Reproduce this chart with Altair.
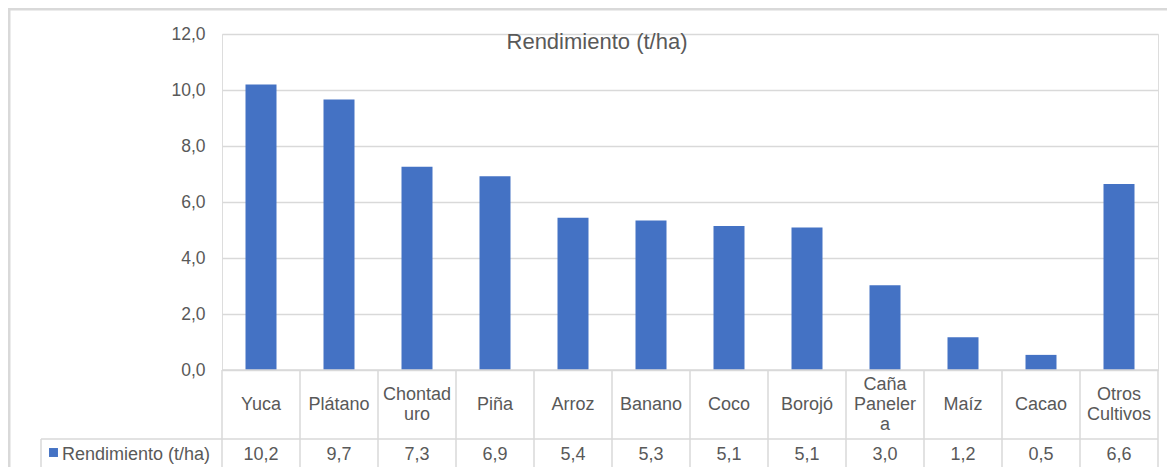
import altair as alt
import pandas as pd

cultivos = ["Yuca", "Plátano", "Chontaduro", "Piña", "Arroz", "Banano", "Coco",
            "Borojó", "Caña Panelera", "Maíz", "Cacao", "Otros Cultivos"]
etiquetas = ["Yuca", "Plátano", "Chontad\nuro", "Piña", "Arroz", "Banano", "Coco",
             "Borojó", "Caña\nPaneler\na", "Maíz", "Cacao", "Otros\nCultivos"]
rendimiento = [10.2, 9.66, 7.26, 6.92, 5.44, 5.34, 5.14, 5.09, 3.03, 1.17, 0.54, 6.64]
serie = "Rendimiento (t/ha)"
y_ticks = [0, 2, 4, 6, 8, 10, 12]

FONT = "Liberation Sans"
TXT = "#595959"
GRID = "#d9d9d9"
BAR = "#4472C4"
W, H = 936, 336
LH = 20

df = pd.DataFrame({"cultivo": cultivos, "etiqueta": etiquetas, "valor": rendimiento})
df["off"] = [-(e.count("\n")) * LH / 2 for e in etiquetas]
one = pd.DataFrame({"serie": [serie]})

xenc = alt.X("cultivo:N", sort=cultivos,
             scale=alt.Scale(paddingInner=0, paddingOuter=0), axis=None)

base = alt.Chart(df)

bars = base.mark_bar(color=BAR, width=31).encode(
    x=xenc,
    y=alt.Y("valor:Q", scale=alt.Scale(domain=[0, 12], nice=False),
            axis=alt.Axis(values=y_ticks, title=None, grid=True, gridColor=GRID,
                          gridWidth=1.5, domain=False, ticks=False, labelPadding=17,
                          labelFont=FONT, labelFontSize=17.5, labelColor=TXT,
                          labelExpr="replace(format(datum.value, '.1f'), '.', ',')")),
)

header = base.mark_text(lineBreak="\n", font=FONT, fontSize=18, lineHeight=LH,
                        baseline="middle", align="center", color=TXT).encode(
    x=xenc, y=alt.value(370.5), yOffset=alt.YOffset("off:Q", scale=None),
    text="etiqueta:N")

values = base.transform_calculate(
    lbl="replace(format(datum.valor, '.1f'), '.', ',')"
).mark_text(font=FONT, fontSize=18, baseline="middle", align="center", color=TXT).encode(
    x=xenc, y=alt.value(421), text="lbl:N")

vlines = base.mark_rule(color=GRID, strokeWidth=1.5).encode(
    x=alt.X("cultivo:N", sort=cultivos, bandPosition=0,
            scale=alt.Scale(paddingInner=0, paddingOuter=0), axis=None),
    y=alt.value(H), y2=alt.value(440))

ob = alt.Chart(one)
right_line = ob.mark_rule(color=GRID, strokeWidth=1.5).encode(
    x=alt.value(W), y=alt.value(H), y2=alt.value(440))
top_line = ob.mark_rule(color=GRID, strokeWidth=1.5).encode(
    x=alt.value(0), x2=alt.value(W), y=alt.value(H))
row_line = ob.mark_rule(color=GRID, strokeWidth=1.5).encode(
    x=alt.value(-181), x2=alt.value(W), y=alt.value(405))
leg_line = ob.mark_rule(color=GRID, strokeWidth=1.5).encode(
    x=alt.value(-181), y=alt.value(405), y2=alt.value(440))
leg_sq = ob.mark_square(color=BAR, opacity=1, size=80).encode(
    x=alt.value(-168.5), y=alt.value(418.5))
leg_txt = ob.mark_text(font=FONT, fontSize=18, baseline="middle", align="left",
                       color=TXT).encode(x=alt.value(-160), y=alt.value(421), text="serie:N")
title_txt = ob.mark_text(font=FONT, fontSize=22, baseline="middle", align="center",
                         color=TXT).encode(x=alt.value(375), y=alt.value(8), text="serie:N")
border_l = ob.mark_rule(color=GRID, strokeWidth=3).encode(
    x=alt.value(-213), y=alt.value(-26), y2=alt.value(440))
border_t = ob.mark_rule(color=GRID, strokeWidth=3).encode(
    x=alt.value(-214), x2=alt.value(W + 20), y=alt.value(-25))

chart = alt.layer(
    border_l, border_t, bars, title_txt, vlines, right_line, top_line, row_line,
    leg_line, header, values, leg_sq, leg_txt
).properties(
    width=W, height=H,
    autosize=alt.AutoSizeParams(type="none"),
    padding={"left": 214, "top": 26, "right": 9, "bottom": 97},
).configure_view(stroke=None).configure(background="white")

chart.save("out.html", embed_options={"renderer": "svg", "actions": False})
